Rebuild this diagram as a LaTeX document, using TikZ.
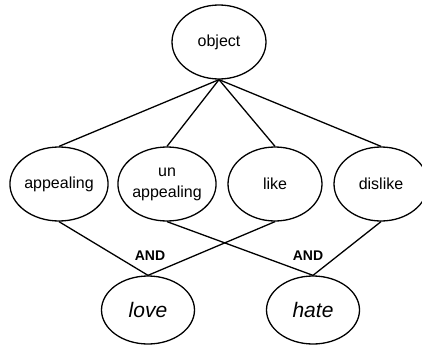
\documentclass[tikz,border=0pt]{standalone}
\usepackage{fontspec}
\setmainfont{Liberation Sans}
\usetikzlibrary{positioning,shapes.geometric}

\begin{document}
\begin{tikzpicture}[x=1pt, y=-1pt, line width=1.3pt,
    concept/.style={ellipse, draw=black, fill=white, minimum width=94pt, minimum height=74pt, inner sep=0pt, align=center, font=\fontsize{16}{21}\selectfont},
    goal/.style={ellipse, draw=black, fill=white, minimum width=93pt, minimum height=68pt, inner sep=0pt, font=\fontsize{21}{24}\selectfont\itshape},
    andlabel/.style={inner sep=0pt, font=\fontsize{14}{16}\selectfont\bfseries}]
    \useasboundingbox (0,0) rectangle (422,345);

    % Top node
    \node[concept] (object) at (219,42) {object};

    % Middle layer
    \foreach \name/\x/\txt in {appealing/59/appealing, unappealing/167/{un\\appealing}, like/275/like, dislike/381/dislike} {
      \node[concept] (\name) at (\x,184) {\txt};
    }

    % Bottom layer
    \node[goal] (love) at (148,310) {love};
    \node[goal] (hate) at (313,310) {hate};

    % AND labels
    \node[andlabel] (andleft) at (150,256) {AND};
    \node[andlabel] (andright) at (308,256) {AND};

    % Connections from object to middle layer
    \foreach \j in {appealing, unappealing, like, dislike} {
      \draw (object.south) -- (\j.north);
    }

    % Connections from middle layer to bottom layer
    \foreach \i/\j in {appealing/love, like/love, unappealing/hate, dislike/hate} {
      \draw (\i.south) -- (\j.north);
    }
  \end{tikzpicture}
\end{document}
